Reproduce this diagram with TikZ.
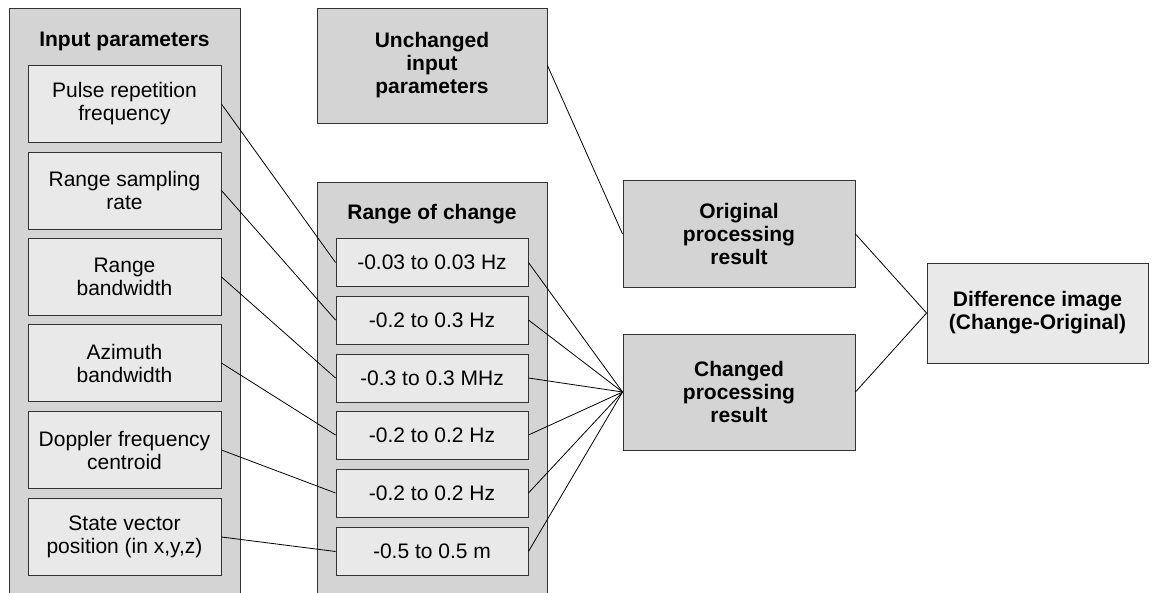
\documentclass[tikz,border=0pt]{standalone}
\usepackage{fontspec}
\setmainfont{Liberation Sans}
\definecolor{outergray}{HTML}{D4D4D4}
\definecolor{innergray}{HTML}{E9E9E9}
\definecolor{edgegray}{HTML}{333333}
\begin{document}
\begin{tikzpicture}[x=1pt,y=-1pt,
  txt/.style={font=\fontsize{21}{23}\selectfont, align=center},
  container/.style={draw=edgegray, fill=outergray, line width=0.9pt, inner sep=0pt},
  titletext/.style={txt, font=\fontsize{21}{23}\selectfont\bfseries, inner sep=0pt},
  parambox/.style={txt, draw=edgegray, fill=innergray, line width=0.9pt, inner sep=0pt,
                   minimum width=193pt, minimum height=77pt},
  rangebox/.style={txt, draw=edgegray, fill=innergray, line width=0.9pt, inner sep=0pt,
                   minimum width=192pt, minimum height=48pt},
  darkbox/.style={txt, font=\fontsize{21}{23}\selectfont\bfseries, draw=edgegray, fill=outergray,
                  line width=0.9pt, inner sep=0pt},
  lightbox/.style={txt, font=\fontsize{21}{23}\selectfont\bfseries, draw=edgegray, fill=innergray,
                  line width=0.9pt, inner sep=0pt},
  link/.style={line width=0.8pt, black}]
\useasboundingbox (0,0) rectangle (1153,593);
\clip (0,0) rectangle (1153,593);

% containers
\node[container, minimum width=231pt, minimum height=612pt] (inpC) at (124.5,314) {};
\node[titletext, anchor=base] (inpT) at (124.5,47) {Input parameters};
\node[container, minimum width=230pt, minimum height=438pt] (rngC) at (432,401) {};
\node[titletext, anchor=base] (rngT) at (432,220) {Range of change};

% input parameter boxes
\node[parambox] (p1) at (124.5,104)   {Pulse repetition\\frequency};
\node[parambox] (p2) at (124.5,190.5) {Range sampling\\rate};
\node[parambox] (p3) at (124.5,277)   {Range\\bandwidth};
\node[parambox] (p4) at (124.5,363)   {Azimuth\\bandwidth};
\node[parambox] (p5) at (124.5,450)   {Doppler frequency\\centroid};
\node[parambox] (p6) at (124.5,537)   {State vector\\position (in x,y,z)};

% range boxes
\node[rangebox] (r1) at (432,262.5) {-0.03 to 0.03 Hz};
\node[rangebox] (r2) at (432,320)   {-0.2 to 0.3 Hz};
\node[rangebox] (r3) at (432,378)   {-0.3 to 0.3 MHz};
\node[rangebox] (r4) at (432,435)   {-0.2 to 0.2 Hz};
\node[rangebox] (r5) at (432,493)   {-0.2 to 0.2 Hz};
\node[rangebox] (r6) at (432,551.5) {-0.5 to 0.5 m};

% other boxes
\node[darkbox, minimum width=230pt, minimum height=115pt] (unch) at (432,65.5) {Unchanged\\input\\parameters};
\node[darkbox, minimum width=232pt, minimum height=107pt] (orig) at (739,234) {Original\\processing\\result};
\node[darkbox, minimum width=232pt, minimum height=116pt] (chg) at (739,392) {Changed\\processing\\result};
\node[lightbox, minimum width=221pt, minimum height=100pt] (diff) at (1037.5,313) {Difference image\\(Change-Original)};

% connectors
\foreach \i in {1,...,6} {
  \draw[link] (p\i.east) -- (r\i.west);
  \draw[link] (r\i.east) -- (chg.west);
}
\draw[link] (unch.east) -- (orig.west);
\draw[link] (orig.east) -- (diff.west);
\draw[link] (chg.east) -- (diff.west);
\end{tikzpicture}
\end{document}
